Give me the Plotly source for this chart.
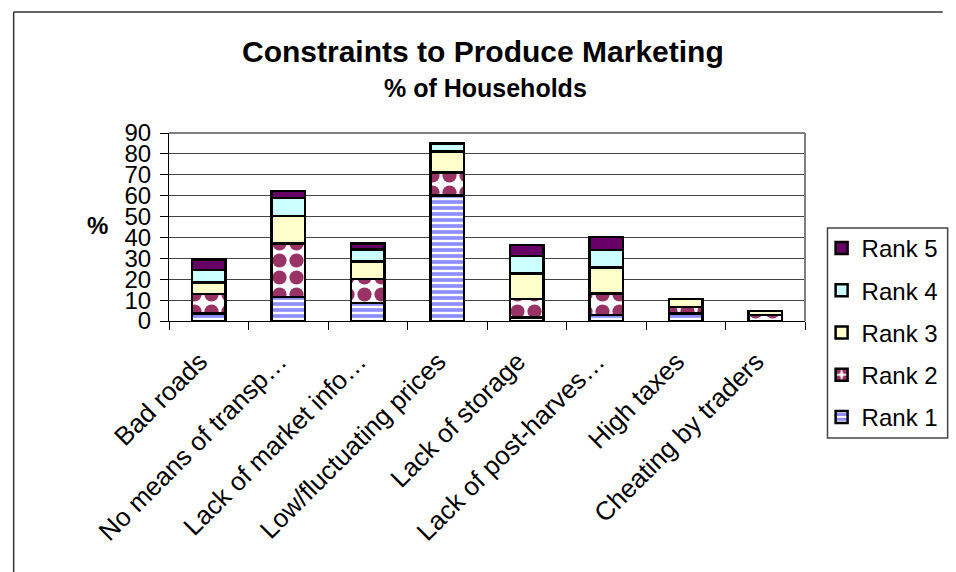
import plotly.graph_objects as go

# Constraint categories (labels as they appear on the axis)
categories = [
    "Bad roads",
    "No means of transp…",
    "Lack of market info…",
    "Low/fluctuating prices",
    "Lack of storage",
    "Lack of post-harves…",
    "High taxes",
    "Cheating by traders",
]

# Percentage of households ranking each constraint 1..5
rank1 = [3.5, 11.5, 8.7, 60.0, 1.6, 2.9, 3.7, 0.0]
rank2 = [9.5, 25.5, 11.5, 11.1, 8.9, 10.3, 3.1, 2.9]
rank3 = [5.5, 13.2, 8.4, 10.0, 12.2, 12.4, 3.8, 1.9]
rank4 = [6.0, 8.6, 5.7, 3.8, 8.4, 8.5, 0.0, 0.0]
rank5 = [5.0, 3.4, 2.7, 0.0, 5.2, 6.1, 0.0, 0.0]

y_ticks = list(range(0, 100, 10))

FONT = "Liberation Sans, Arial, sans-serif"
W, H = 956, 572
L, R, T, B = 169, 136, 133, 251
PW, PH = W - L - R, H - T - B


def px_x(x):
    return (x - L) / PW


def px_y(y):
    return (H - B - y) / PH


series = [
    ("Rank 1", rank1, dict(color="#9999FF",
                           pattern=dict(shape="-", fgcolor="#8C8CFF", bgcolor="white",
                                        fgopacity=1, size=6, solidity=0.6))),
    ("Rank 2", rank2, dict(color="#993366",
                           pattern=dict(shape=".", fgcolor="#993366", bgcolor="white",
                                        fgopacity=1, size=17, solidity=0.55))),
    ("Rank 3", rank3, dict(color="#FFFFCC")),
    ("Rank 4", rank4, dict(color="#CCFFFF")),
    ("Rank 5", rank5, dict(color="#660066")),
]

fig = go.Figure()
for i, (name, vals, marker) in enumerate(series):
    marker["line"] = dict(color="black", width=2.5)
    fig.add_trace(go.Bar(
        x=categories, y=vals, name=name, marker=marker,
        legendgroup=name, legendrank=len(series) - i,
    ))

shapes = [
    # plot area frame (top and right sides)
    dict(type="line", xref="paper", yref="paper", x0=0, x1=1, y0=1, y1=1,
         line=dict(color="#808080", width=2)),
    dict(type="line", xref="paper", yref="paper", x0=1, x1=1, y0=0, y1=1,
         line=dict(color="#808080", width=2)),
    # chart area frame (left and top edges)
    dict(type="line", xref="paper", yref="paper", x0=px_x(10), x1=px_x(W + 5),
         y0=px_y(12), y1=px_y(12), line=dict(color="#333333", width=1.5)),
    dict(type="line", xref="paper", yref="paper", x0=px_x(10), x1=px_x(10),
         y0=px_y(H + 5), y1=px_y(12), line=dict(color="#333333", width=1.5)),
    # legend box
    dict(type="rect", xref="paper", yref="paper", x0=px_x(843), x1=px_x(W + 10),
         y0=px_y(438), y1=px_y(228), line=dict(color="#444444", width=1.5)),
]

annotations = [
    dict(text="<b>Constraints to Produce Marketing</b>", xref="paper", yref="paper",
         x=px_x(490), y=px_y(52), xanchor="center", yanchor="middle", showarrow=False,
         font=dict(family=FONT, size=30, color="black")),
    dict(text="<b>% of Households</b>", xref="paper", yref="paper",
         x=px_x(493), y=px_y(88), xanchor="center", yanchor="middle", showarrow=False,
         font=dict(family=FONT, size=25, color="black")),
    dict(text="<b>%</b>", xref="paper", yref="paper",
         x=px_x(96), y=px_y(225), xanchor="center", yanchor="middle", showarrow=False,
         font=dict(family=FONT, size=24, color="black")),
]

fig.update_layout(
    width=W, height=H,
    margin=dict(l=L, r=R, t=T, b=B, pad=0),
    barmode="stack",
    bargap=0.58,
    paper_bgcolor="white",
    plot_bgcolor="white",
    font=dict(family=FONT, size=24, color="black"),
    showlegend=True,
    legend=dict(
        x=px_x(837), y=px_y(226), xanchor="left", yanchor="top",
        traceorder="grouped", tracegroupgap=8, maxheight=400,
        font=dict(family=FONT, size=24, color="black"),
        bgcolor="rgba(0,0,0,0)", borderwidth=0,
    ),
    xaxis=dict(
        type="category", tickangle=-45, tickson="boundaries",
        ticks="outside", ticklen=8, tickcolor="black", tickwidth=1,
        ticklabelshift=-9, ticklabelstandoff=14,
        showline=True, linecolor="black", linewidth=1,
        showgrid=False, tickfont=dict(family=FONT, size=26),
    ),
    yaxis=dict(
        range=[0, 90], tickvals=y_ticks, ticks="outside", ticklen=8,
        tickcolor="black", tickwidth=1, showline=True, linecolor="black",
        linewidth=1, showgrid=True, gridcolor="#444444", gridwidth=1,
        ticklabelstandoff=4,
        zeroline=False, tickfont=dict(family=FONT, size=24),
    ),
    shapes=shapes,
    annotations=annotations,
)

fig.write_html("out.html")
